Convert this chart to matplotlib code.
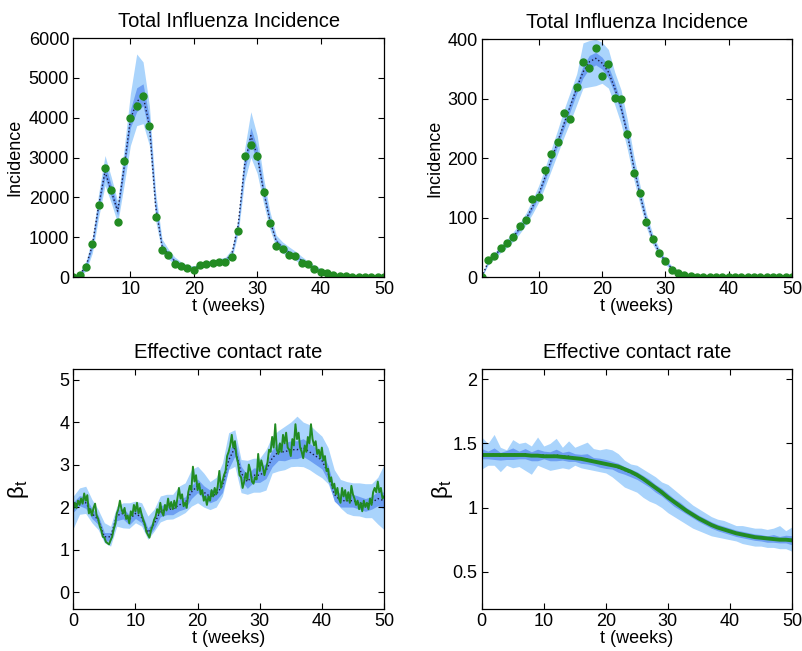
import numpy as np
import matplotlib
matplotlib.use("Agg")
import matplotlib.pyplot as plt

plt.rcParams['font.family'] = ['Liberation Sans', 'DejaVu Sans']

# ------------------------------------------------------------
# Datos: incidencia semanal (paneles superiores)
# ------------------------------------------------------------
semanas = np.arange(1, 51)

# panel superior izquierdo
obs_tl = [0, 50, 240, 830, 1800, 2730, 2180, 1380, 2900, 4000,
          4285, 4545, 3790, 1510, 680, 550, 330, 270, 235, 185,
          290, 335, 345, 370, 370, 495, 1165, 3045, 3320, 3030,
          2125, 1365, 770, 700, 550, 535, 345, 330, 210, 115,
          90, 50, 35, 20, 10, 5, 5, 2, 2, 1]
media_tl = [0, 60, 270, 800, 1800, 2650, 2150, 1650, 2750, 3950,
            4400, 4550, 3800, 1750, 770, 570, 400, 300, 235, 220,
            290, 340, 365, 390, 420, 570, 1300, 2800, 3550, 3050,
            2150, 1420, 900, 740, 620, 530, 420, 320, 230, 160,
            110, 70, 45, 28, 18, 12, 8, 5, 3, 2]
ext_lo_tl = [0, 20, 150, 600, 1500, 2300, 1850, 1350, 2300, 3300,
             3800, 3850, 3300, 1400, 600, 450, 320, 230, 180, 170,
             230, 280, 300, 320, 340, 450, 1100, 2400, 3000, 2600,
             1850, 1200, 750, 600, 500, 420, 320, 250, 170, 110,
             70, 40, 25, 15, 8, 4, 3, 2, 1, 1]
ext_hi_tl = [20, 120, 400, 1000, 2100, 3050, 2500, 1900, 3200, 4600,
             5600, 5400, 4300, 2100, 950, 700, 500, 380, 300, 280,
             350, 400, 430, 460, 500, 700, 1500, 3200, 4150, 3550,
             2500, 1650, 1050, 880, 760, 650, 520, 400, 300, 220,
             150, 100, 70, 45, 30, 20, 15, 10, 7, 5]
int_lo_tl = [0, 40, 220, 720, 1700, 2500, 2000, 1550, 2600, 3750,
             4150, 4300, 3600, 1650, 720, 530, 370, 280, 215, 200,
             270, 320, 345, 370, 395, 530, 1230, 2650, 3350, 2900,
             2050, 1350, 860, 700, 580, 500, 390, 300, 210, 145,
             95, 60, 38, 23, 14, 9, 6, 3, 2, 1]
int_hi_tl = [5, 80, 320, 880, 1950, 2850, 2300, 1780, 2950, 4200,
             4750, 4850, 4000, 1880, 830, 620, 430, 330, 255, 240,
             310, 360, 390, 415, 450, 610, 1380, 2950, 3750, 3250,
             2280, 1500, 950, 790, 660, 570, 450, 350, 255, 180,
             125, 80, 52, 33, 22, 15, 10, 7, 4, 3]

# panel superior derecho
obs_tr = [0, 29, 36, 49, 57, 67, 85, 96, 132, 134,
          180, 207, 228, 276, 266, 319, 361, 352, 385, 338,
          359, 302, 300, 241, 175, 141, 93, 64, 41, 27,
          12, 7, 3, 1, 0.5, 0, 0, 0, 0, 0,
          0, 0, 0, 0, 0, 0, 0, 0, 0, 0]
media_tr = [0, 25, 36, 47, 57, 68, 82, 98, 118, 140,
            168, 198, 228, 258, 288, 318, 345, 362, 368, 360,
            345, 318, 285, 240, 185, 138, 95, 64, 42, 26,
            15, 8, 4, 2, 1, 0.5, 0.4, 0.3, 0.2, 0.1,
            0, 0, 0, 0, 0, 0, 0, 0, 0, 0]
ext_lo_tr = [0, 20, 31, 41, 50, 60, 73, 88, 106, 126,
             152, 180, 208, 236, 262, 290, 318, 320, 322, 326,
             318, 290, 258, 215, 165, 122, 83, 55, 35, 21,
             11, 5, 2, 1, 0, 0, 0, 0, 0, 0,
             0, 0, 0, 0, 0, 0, 0, 0, 0, 0]
ext_hi_tr = [2, 30, 41, 53, 64, 76, 91, 108, 130, 154,
             184, 216, 248, 282, 312, 342, 394, 398, 400, 395,
             383, 345, 315, 265, 205, 154, 107, 73, 49, 31,
             19, 11, 6, 3, 2, 1, 1, 1, 1, 1,
             1, 1, 1, 1, 1, 1, 1, 1, 1, 1]
int_lo_tr = [0, 23, 34, 45, 54, 65, 79, 94, 113, 135,
             162, 192, 221, 250, 280, 309, 335, 351, 357, 350,
             335, 309, 276, 232, 179, 133, 91, 61, 40, 24,
             14, 7, 3, 1.5, 0.5, 0, 0, 0, 0, 0,
             0, 0, 0, 0, 0, 0, 0, 0, 0, 0]
int_hi_tr = [1, 27, 38, 50, 60, 71, 85, 102, 123, 145,
             174, 204, 235, 266, 296, 327, 355, 373, 378, 370,
             355, 327, 294, 248, 191, 143, 99, 67, 44, 28,
             16, 9, 5, 2.5, 1.5, 1, 1, 0.5, 0.5, 0.5,
             0.5, 0.5, 0.5, 0.5, 0.5, 0.5, 0.5, 0.5, 0.5, 0.5]

# ------------------------------------------------------------
# Datos: tasa de contacto efectiva (paneles inferiores)
# ------------------------------------------------------------
t_sem = np.arange(0, 51)
t_fino = np.arange(0, 201) * 0.25

# panel inferior izquierdo: trayectoria real (cada 1/4 de semana)
beta_real_bl = [
    1.95, 2.10, 1.98, 2.15, 2.05, 2.20, 2.08, 2.32, 2.15, 2.28,
    1.85, 1.95, 1.80, 1.98, 2.08, 1.80, 1.72, 1.55, 1.45, 1.30,
    1.28, 1.18, 1.15, 1.12, 1.22, 1.30, 1.48, 1.60, 1.85, 1.95,
    2.15, 1.95, 1.85, 1.98, 1.72, 1.80, 1.62, 1.90, 1.80, 2.05,
    1.90, 2.10, 1.85, 1.98, 1.82, 1.70, 1.60, 1.42, 1.35, 1.28,
    1.45, 1.55, 1.70, 1.78, 1.95, 1.85, 2.10, 1.88, 1.80, 2.05,
    1.92, 2.20, 1.98, 2.12, 1.95, 2.15, 1.98, 2.20, 2.45, 2.20,
    2.30, 2.02, 2.10, 1.98, 2.35, 2.50, 2.40, 2.95, 2.60, 2.75,
    2.40, 2.55, 2.30, 2.40, 2.15, 2.25, 2.05, 2.25, 2.15, 2.40,
    2.25, 2.45, 2.30, 2.50, 2.85, 2.45, 2.60, 2.75, 2.85, 3.20,
    3.30, 3.45, 3.70, 3.40, 3.55, 3.20, 3.05, 2.75, 2.70, 2.45,
    2.60, 2.80, 2.65, 3.00, 2.85, 2.60, 2.55, 2.70, 2.65, 3.25,
    2.85, 3.10, 2.95, 2.75, 2.90, 3.05, 3.35, 3.30, 3.65, 3.40,
    3.95, 3.35, 3.25, 3.50, 3.30, 3.70, 3.50, 3.75, 3.40, 3.35,
    3.20, 3.60, 3.45, 3.95, 3.60, 3.75, 3.40, 3.30, 3.15, 3.45,
    3.30, 3.65, 3.50, 3.95, 3.60, 3.45, 3.55, 3.25, 3.35, 3.15,
    3.40, 3.10, 3.20, 2.85, 2.90, 2.60, 2.70, 2.45, 2.55, 2.30,
    2.45, 2.20, 2.10, 2.45, 2.25, 2.40, 2.15, 2.35, 2.10, 2.50,
    2.30, 2.20, 2.05, 2.15, 1.95, 2.10, 1.90, 2.15, 2.00, 2.10,
    1.95, 2.20, 2.05, 2.35, 2.45, 2.35, 2.60, 2.35, 2.45, 2.20,
    2.25]
media_bl = [2.0, 2.15, 2.1, 1.85, 1.7, 1.3, 1.3, 1.8, 1.85, 1.7,
            1.85, 1.75, 1.4, 1.6, 1.9, 1.95, 1.95, 2.05, 2.1, 2.35,
            2.5, 2.35, 2.25, 2.3, 2.5, 3.1, 3.4, 2.8, 2.6, 2.75,
            2.75, 2.85, 3.15, 3.3, 3.3, 3.35, 3.35, 3.4, 3.3, 3.2,
            3.1, 2.8, 2.3, 2.15, 2.15, 2.15, 2.1, 2.05, 2.1, 2.2,
            2.15]
ext_lo_bl = [1.5, 1.83, 1.85, 1.63, 1.47, 1.16, 1.08, 1.55, 1.51, 1.5,
             1.63, 1.55, 1.24, 1.43, 1.65, 1.71, 1.72, 1.79, 1.87, 2.02,
             2.1, 2.0, 1.94, 2.0, 2.26, 2.88, 2.96, 2.34, 2.3, 2.35,
             2.35, 2.4, 2.8, 2.85, 2.88, 2.95, 2.96, 2.95, 2.88, 2.78,
             2.69, 2.55, 2.18, 1.98, 1.85, 1.8, 1.79, 1.75, 1.75, 1.6,
             1.47]
ext_hi_bl = [2.26, 2.45, 2.49, 2.18, 1.94, 1.63, 1.55, 2.02, 2.1, 2.1,
             2.14, 2.1, 1.79, 1.95, 2.26, 2.3, 2.3, 2.49, 2.57, 2.88,
             2.96, 2.8, 2.6, 2.7, 3.04, 3.75, 3.82, 3.12, 3.1, 3.15,
             3.15, 3.35, 3.67, 3.8, 3.9, 4.0, 4.14, 4.0, 3.94, 3.8,
             3.67, 3.4, 2.88, 2.65, 2.6, 2.57, 2.57, 2.55, 2.55, 2.7,
             3.0]
semi_int_bl = [0.12, 0.12, 0.13, 0.12, 0.11, 0.1, 0.1, 0.12, 0.13, 0.12,
               0.12, 0.12, 0.1, 0.11, 0.13, 0.13, 0.13, 0.14, 0.14, 0.15,
               0.16, 0.15, 0.15, 0.14, 0.16, 0.2, 0.2, 0.16, 0.16, 0.17,
               0.17, 0.18, 0.2, 0.2, 0.21, 0.21, 0.21, 0.21, 0.2, 0.2,
               0.2, 0.18, 0.16, 0.15, 0.15, 0.15, 0.15, 0.15, 0.15, 0.17,
               0.2]

# panel inferior derecho
beta_real_br = [1.41, 1.41, 1.41, 1.41, 1.41, 1.41, 1.41, 1.41, 1.405, 1.405,
                1.40, 1.40, 1.40, 1.395, 1.39, 1.385, 1.38, 1.37, 1.36, 1.35,
                1.34, 1.33, 1.32, 1.30, 1.28, 1.255, 1.225, 1.19, 1.155, 1.12,
                1.08, 1.045, 1.01, 0.975, 0.945, 0.915, 0.89, 0.865, 0.845, 0.83,
                0.815, 0.80, 0.79, 0.78, 0.77, 0.765, 0.76, 0.755, 0.75, 0.75,
                0.745]
media_br = [1.42, 1.41, 1.42, 1.40, 1.41, 1.42, 1.41, 1.42, 1.40, 1.41,
            1.41, 1.40, 1.41, 1.40, 1.40, 1.39, 1.38, 1.38, 1.36, 1.35,
            1.34, 1.33, 1.31, 1.29, 1.27, 1.25, 1.22, 1.19, 1.15, 1.12,
            1.08, 1.04, 1.01, 0.975, 0.945, 0.915, 0.89, 0.865, 0.845, 0.83,
            0.815, 0.80, 0.79, 0.78, 0.77, 0.765, 0.755, 0.76, 0.75, 0.755,
            0.745]
ext_lo_br = [1.30, 1.33, 1.33, 1.28, 1.33, 1.31, 1.32, 1.29, 1.26, 1.33,
             1.31, 1.29, 1.30, 1.31, 1.30, 1.33, 1.31, 1.30, 1.29, 1.28,
             1.27, 1.24, 1.20, 1.16, 1.14, 1.12, 1.08, 1.05, 1.03, 1.00,
             0.96, 0.93, 0.90, 0.87, 0.84, 0.82, 0.80, 0.78, 0.77, 0.76,
             0.75, 0.74, 0.72, 0.71, 0.70, 0.70, 0.69, 0.69, 0.68, 0.68,
             0.66]
ext_hi_br = [1.55, 1.50, 1.57, 1.47, 1.45, 1.53, 1.50, 1.51, 1.48, 1.55,
             1.48, 1.50, 1.54, 1.47, 1.52, 1.47, 1.49, 1.51, 1.46, 1.45,
             1.46, 1.45, 1.42, 1.37, 1.34, 1.33, 1.30, 1.27, 1.24, 1.20,
             1.18, 1.14, 1.10, 1.06, 1.02, 0.99, 0.96, 0.93, 0.91, 0.90,
             0.88, 0.86, 0.86, 0.85, 0.84, 0.84, 0.83, 0.84, 0.86, 0.82,
             0.85]
semi_int_br = [0.04, 0.03, 0.045, 0.03, 0.035, 0.045, 0.03, 0.04, 0.035, 0.045,
               0.03, 0.035, 0.045, 0.03, 0.04, 0.03, 0.035, 0.04, 0.03, 0.035,
               0.035, 0.03, 0.035, 0.03, 0.03, 0.03, 0.03, 0.03, 0.03, 0.03,
               0.03, 0.03, 0.03, 0.025, 0.025, 0.025, 0.025, 0.025, 0.025, 0.025,
               0.025, 0.025, 0.025, 0.025, 0.025, 0.025, 0.025, 0.03, 0.025, 0.03,
               0.035]

# ------------------------------------------------------------
# Estilo
# ------------------------------------------------------------
c_ext = '#aad4fc'
c_int = '#6d9ff2'
c_media = '#1a1a40'
c_verde = '#228b22'


def estilo(ax, titulo, ylab, ylab_x, ylab_size=13):
    ax.set_title(titulo, fontsize=14.5, pad=8)
    ax.set_xlabel('t (weeks)', fontsize=13, labelpad=0)
    ax.set_ylabel(ylab, fontsize=ylab_size)
    ax.yaxis.set_label_coords(ylab_x, 0.5)
    ax.tick_params(direction='in', top=True, right=True, length=4,
                   width=0.8, labelsize=13, pad=3)
    for s in ax.spines.values():
        s.set_linewidth(0.9)


fig = plt.figure(figsize=(8.03, 6.51), dpi=100)
ax_tl = fig.add_axes([0.0913, 0.5745, 0.3869, 0.3671])
ax_tr = fig.add_axes([0.5999, 0.5745, 0.3864, 0.3651])
ax_bl = fig.add_axes([0.0913, 0.0645, 0.3869, 0.3687])
ax_br = fig.add_axes([0.5999, 0.0645, 0.3864, 0.3687])

# 1) incidencia, izquierda
ax_tl.fill_between(semanas, ext_lo_tl, ext_hi_tl, color=c_ext, lw=0)
ax_tl.fill_between(semanas, int_lo_tl, int_hi_tl, color=c_int, lw=0)
ax_tl.plot(semanas, media_tl, ':', color=c_media, lw=1)
ax_tl.plot(semanas, obs_tl, 'o', color=c_verde, ms=5, mec=c_verde)
ax_tl.set_xlim(1, 50)
ax_tl.set_ylim(0, 6000)
ax_tl.set_xticks([10, 20, 30, 40, 50])
ax_tl.set_yticks([0, 1000, 2000, 3000, 4000, 5000, 6000])
estilo(ax_tl, 'Total Influenza Incidence', 'Incidence', -0.16)

# 2) incidencia, derecha
ax_tr.fill_between(semanas, ext_lo_tr, ext_hi_tr, color=c_ext, lw=0)
ax_tr.fill_between(semanas, int_lo_tr, int_hi_tr, color=c_int, lw=0)
ax_tr.plot(semanas, media_tr, ':', color=c_media, lw=1)
ax_tr.plot(semanas, obs_tr, 'o', color=c_verde, ms=5, mec=c_verde)
ax_tr.set_xlim(1, 50)
ax_tr.set_ylim(0, 400)
ax_tr.set_xticks([10, 20, 30, 40, 50])
ax_tr.set_yticks([0, 100, 200, 300, 400])
estilo(ax_tr, 'Total Influenza Incidence', 'Incidence', -0.125)

# 3) tasa de contacto, izquierda
media_bl = np.array(media_bl)
semi_int_bl = np.array(semi_int_bl)
ax_bl.fill_between(t_sem, ext_lo_bl, ext_hi_bl, color=c_ext, lw=0)
ax_bl.fill_between(t_sem, media_bl - semi_int_bl, media_bl + semi_int_bl,
                   color=c_int, lw=0)
ax_bl.plot(t_sem, media_bl, ':', color=c_media, lw=1)
ax_bl.plot(t_fino, beta_real_bl, '-', color=c_verde, lw=1.4)
ax_bl.set_xlim(0, 50)
ax_bl.set_ylim(-0.4, 5.25)
ax_bl.set_xticks([0, 10, 20, 30, 40, 50])
ax_bl.set_yticks([0, 1, 2, 3, 4, 5])
estilo(ax_bl, 'Effective contact rate', r'β$_\mathregular{t}$', -0.135, 16)

# 4) tasa de contacto, derecha
media_br = np.array(media_br)
semi_int_br = np.array(semi_int_br)
ax_br.fill_between(t_sem, ext_lo_br, ext_hi_br, color=c_ext, lw=0)
ax_br.fill_between(t_sem, media_br - semi_int_br, media_br + semi_int_br,
                   color=c_int, lw=0)
ax_br.plot(t_sem, media_br, ':', color=c_media, lw=1)
ax_br.plot(t_sem, beta_real_br, '-', color=c_verde, lw=2.8)
ax_br.set_xlim(0, 50)
ax_br.set_ylim(0.21, 2.08)
ax_br.set_xticks([0, 10, 20, 30, 40, 50])
ax_br.set_yticks([0.5, 1, 1.5, 2])
ax_br.set_yticklabels(['0.5', '1', '1.5', '2'])
estilo(ax_br, 'Effective contact rate', r'β$_\mathregular{t}$', -0.085, 16)

fig.savefig('out.png', dpi=100)
